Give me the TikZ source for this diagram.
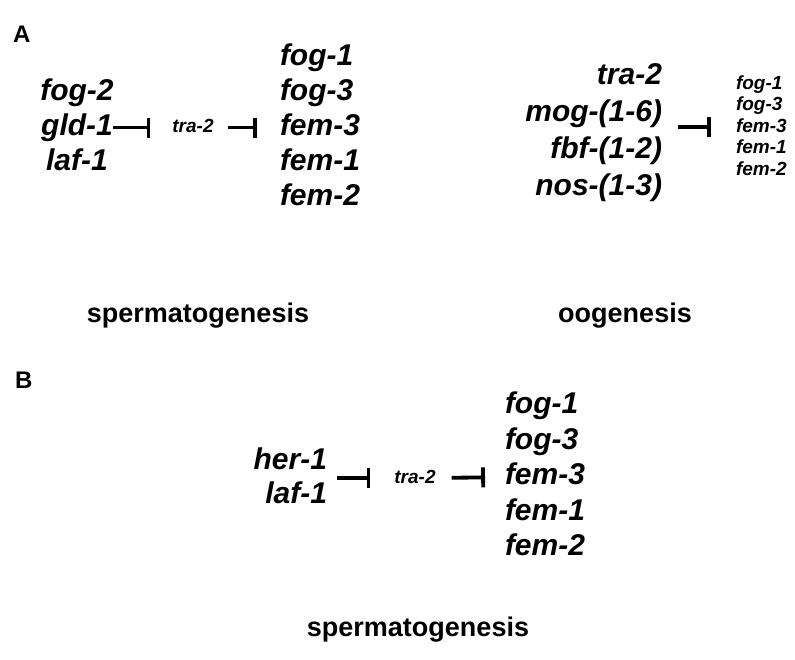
\documentclass[tikz,border=0pt]{standalone}
\usepackage{fontspec}
\setmainfont{Liberation Sans}
\usetikzlibrary{arrows.meta,positioning}

\begin{document}
\begin{tikzpicture}[
  x=1pt, y=-1pt,
  every node/.style={inner sep=0pt, outer sep=0pt},
  gene/.style={font=\fontsize{30}{35}\selectfont\bfseries\itshape, text height=22pt, text depth=7pt},
  genesmall/.style={font=\fontsize{19}{21}\selectfont\bfseries\itshape, text height=14pt, text depth=4pt},
  stage/.style={font=\fontsize{27}{32}\selectfont\bfseries},
  panel/.style={font=\fontsize{24}{28}\selectfont\bfseries},
  inhib/.style={line width=3.8pt, -{Bar[width=20pt]}}
]
\useasboundingbox (0,0) rectangle (795,659);

% panel A, spermatogenesis
\node[panel, anchor=base west] (labA) at (13,42) {A};
\node[gene, anchor=base] (fogTwoA) at (77,100) {fog-2};
\node[gene, anchor=base] (gldA) at (77,135) {gld-1};
\node[gene, anchor=base] (lafA) at (77,170) {laf-1};
\node[genesmall] (traA) at (193,127.5) {tra-2};
\node[gene, anchor=base west] (tA1) at (280,65) {fog-1};
\node[gene, anchor=base west] (tA2) at (280,100) {fog-3};
\node[gene, anchor=base west] (tA3) at (280,135) {fem-3};
\node[gene, anchor=base west] (tA4) at (280,170) {fem-1};
\node[gene, anchor=base west] (tA5) at (280,205) {fem-2};
\draw[inhib, shorten >=22pt] (gldA) -- (traA);
\draw[inhib, shorten <=14pt, shorten >=23pt] (traA) -- (tA3);
\node[stage] (spermA) at (198,316) {spermatogenesis};

% panel A, oogenesis
\node[gene, anchor=base east] (traO) at (662,84.5) {tra-2};
\node[gene, anchor=base east] (mogO) at (662,121.5) {mog-(1-6)};
\node[gene, anchor=base east] (fbfO) at (662,158.5) {fbf-(1-2)};
\node[gene, anchor=base east] (nosO) at (662,195.5) {nos-(1-3)};
\node[genesmall, anchor=base west] (sO1) at (736,89) {fog-1};
\node[genesmall, anchor=base west] (sO2) at (736,110.5) {fog-3};
\node[genesmall, anchor=base west] (sO3) at (736,132) {fem-3};
\node[genesmall, anchor=base west] (sO4) at (736,153.5) {fem-1};
\node[genesmall, anchor=base west] (sO5) at (736,175) {fem-2};
\draw[inhib, shorten <=16pt, shorten >=25pt] (sO3 -| fbfO.east) -- (sO3);
\node[stage] (oogen) at (625,316) {oogenesis};

% panel B
\node[panel, anchor=base west] (labB) at (15,388) {B};
\node[gene, anchor=base east] (herB) at (327,469) {her-1};
\node[gene, anchor=base east] (lafB) at (327,503) {laf-1};
\node[genesmall] (traB) at (415,478) {tra-2};
\node[gene, anchor=base west] (tB1) at (505,413.5) {fog-1};
\node[gene, anchor=base west] (tB2) at (505,449) {fog-3};
\node[gene, anchor=base west] (tB3) at (505,484.5) {fem-3};
\node[gene, anchor=base west] (tB4) at (505,520) {fem-1};
\node[gene, anchor=base west] (tB5) at (505,555.5) {fem-2};
\draw[inhib, shorten <=10pt, shorten >=24pt] (traB -| herB.east) -- (traB);
\draw[inhib, shorten <=16pt, shorten >=20pt] (traB) -- (tB3);
\node[stage] (spermB) at (418,630) {spermatogenesis};
\end{tikzpicture}
\end{document}
